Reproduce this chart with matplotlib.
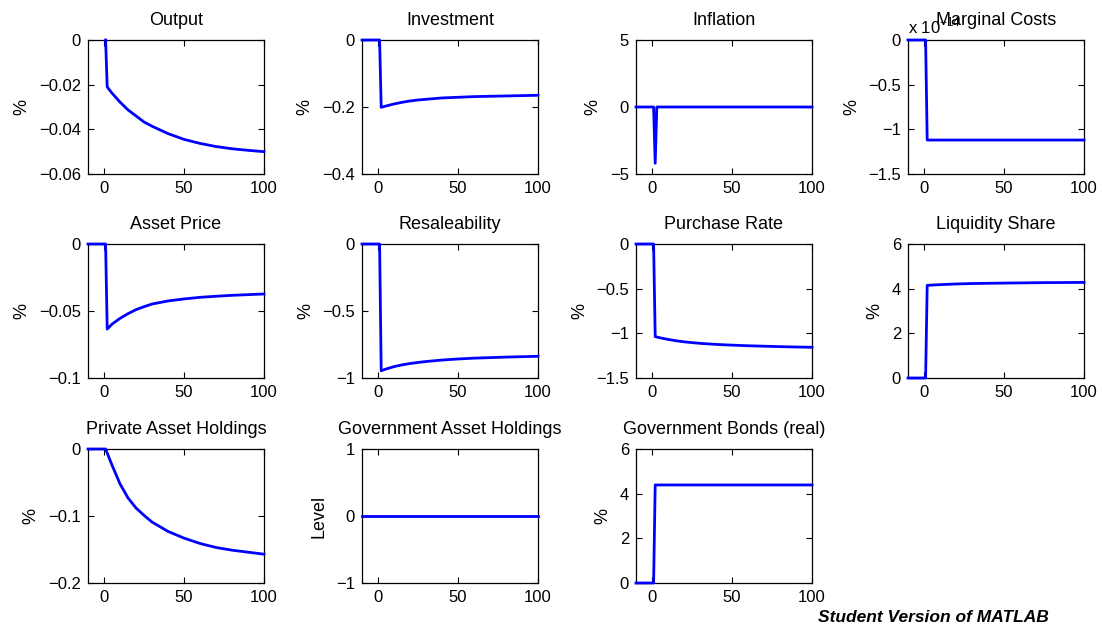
import matplotlib
matplotlib.use("Agg")
import matplotlib.pyplot as plt
from matplotlib.ticker import FuncFormatter

plt.rcParams['font.family'] = ['Liberation Sans', 'DejaVu Sans']
plt.rcParams['mathtext.fontset'] = 'custom'
plt.rcParams['mathtext.rm'] = 'Liberation Sans'

t_pre = [-10, 1]
t_path = [2, 5, 10, 15, 20, 25, 30, 40, 50, 60, 70, 80, 90, 100]

output = [-0.021, -0.0238, -0.0278, -0.0313, -0.034, -0.0367, -0.0386,
          -0.0419, -0.0445, -0.0463, -0.0477, -0.0487, -0.0494, -0.0500]
investment = [-0.201, -0.197, -0.191, -0.186, -0.182, -0.179, -0.177,
              -0.173, -0.171, -0.169, -0.168, -0.167, -0.166, -0.165]
asset_price = [-0.0635, -0.0598, -0.0555, -0.052, -0.049, -0.0468, -0.0448,
               -0.0425, -0.041, -0.0398, -0.039, -0.0383, -0.0378, -0.0373]
resale = [-0.946, -0.933, -0.915, -0.902, -0.892, -0.884, -0.877,
          -0.866, -0.858, -0.852, -0.848, -0.844, -0.841, -0.838]
purchase = [-1.037, -1.05, -1.068, -1.083, -1.095, -1.104, -1.112,
            -1.124, -1.132, -1.139, -1.144, -1.149, -1.153, -1.156]

t_priv = [-10, 1, 5, 10, 15, 20, 25, 30, 40, 50, 60, 70, 80, 90, 100]
private = [0, 0, -0.024, -0.052, -0.073, -0.088, -0.099, -0.109,
           -0.123, -0.133, -0.141, -0.147, -0.151, -0.154, -0.157]

t_liq = [-10, 1, 2, 10, 20, 30, 50, 75, 100]
liquidity = [0, 0, 4.15, 4.18, 4.21, 4.23, 4.25, 4.27, 4.28]

t_infl = [-10, 1, 2, 3, 100]
inflation = [0, 0, -4.2, 0, 0]

t_step = [-10, 1, 2, 100]
marginal = [0, 0, -1.12e-14, -1.12e-14]
bonds = [0, 0, 4.39, 4.39]

t_gov = [-10, 100]
gov_assets = [0, 0]

panels = [
    ("Output", [1] + t_path, [0] + output, [-0.06, -0.04, -0.02, 0], "%"),
    ("Investment", t_pre + t_path, [0, 0] + investment, [-0.4, -0.2, 0], "%"),
    ("Inflation", t_infl, inflation, [-5, 0, 5], "%"),
    ("Marginal Costs", t_step, marginal, [-1.5e-14, -1e-14, -0.5e-14, 0], "%"),
    ("Asset Price", t_pre + t_path, [0, 0] + asset_price, [-0.1, -0.05, 0], "%"),
    ("Resaleability", t_pre + t_path, [0, 0] + resale, [-1, -0.5, 0], "%"),
    ("Purchase Rate", t_pre + t_path, [0, 0] + purchase, [-1.5, -1, -0.5, 0], "%"),
    ("Liquidity Share", t_liq, liquidity, [0, 2, 4, 6], "%"),
    ("Private Asset Holdings", t_priv, private, [-0.2, -0.1, 0], "%"),
    ("Government Asset Holdings", t_gov, gov_assets, [-1, 0, 1], "Level"),
    ("Government Bonds (real)", t_step, bonds, [0, 2, 4, 6], "%"),
]

W, H = 1102, 626
fig = plt.figure(figsize=(W / 100, H / 100), dpi=100)

lefts = [88, 362, 636, 908]
tops = [40, 244, 449]
aw, ah = 176, 134


def fmt(v, pos, scale=1.0):
    s = "%g" % (v / scale)
    return s.replace("-", "\u2212")


for i, (title, x, y, yt, ylab) in enumerate(panels):
    r, c = divmod(i, 4)
    ax = fig.add_axes([lefts[c] / W, 1 - (tops[r] + ah) / H, aw / W, ah / H])
    ax.plot(x, y, color=(0, 0, 1), lw=2, clip_on=False, zorder=3)
    ax.set_xlim(-10, 100)
    ax.set_xticks([0, 50, 100])
    ax.set_ylim(yt[0], yt[-1])
    ax.set_yticks(yt)
    if title == "Marginal Costs":
        ax.yaxis.set_major_formatter(FuncFormatter(lambda v, p: fmt(v, p, 1e-14)))
        ax.text(0, 1.025, "x 10$^{\u221214}$", transform=ax.transAxes,
                fontsize=12, ha="left", va="bottom")
    else:
        ax.yaxis.set_major_formatter(FuncFormatter(fmt))
    ax.tick_params(direction="in", length=4, width=0.8, top=True, right=True,
                   labelsize=12, pad=5)
    for sp in ax.spines.values():
        sp.set_linewidth(0.9)
    ax.set_title(title, fontsize=13, pad=11)
    ax.set_ylabel(ylab, fontsize=13, labelpad=6)

fig.text(818 / W, 1 - 618 / H, "Student Version of MATLAB", fontsize=12.5,
         fontweight="bold", fontstyle="italic", ha="left", va="center")

fig.savefig("out.png", dpi=100)
